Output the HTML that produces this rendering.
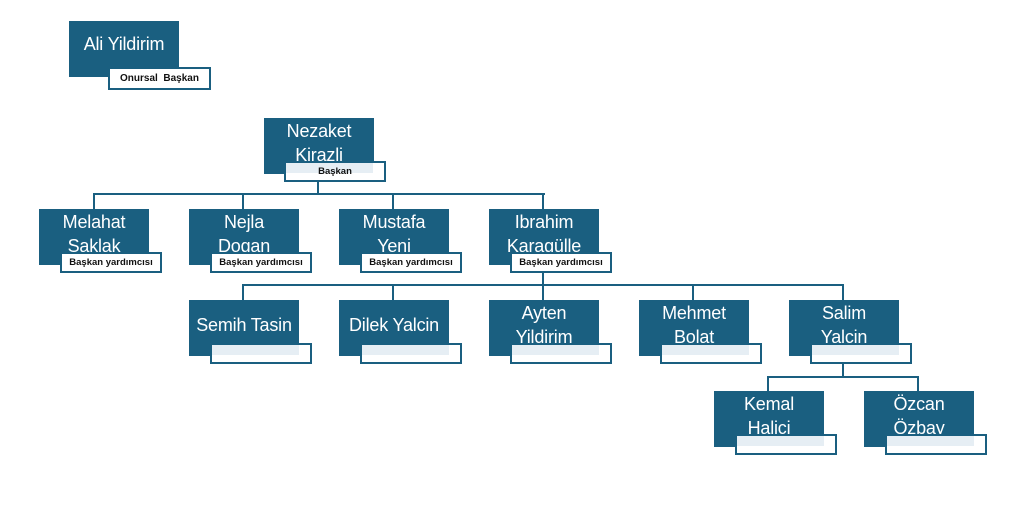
<!DOCTYPE html>
<html><head><meta charset="utf-8"><style>
body{margin:0;width:1024px;height:513px;background:#fff;position:relative;overflow:hidden;font-family:"Liberation Sans",sans-serif}
.b{position:absolute;width:110px;height:56px;background:#1a5f80;color:#fff;font-size:18px;line-height:24px;text-align:center;box-sizing:border-box;padding-top:1px;white-space:nowrap;letter-spacing:-0.2px}
.l{position:absolute;width:102px;height:21px;background:#fff;border:2px solid #1a5f80;box-sizing:border-box;font-size:9.5px;font-weight:bold;color:#111;text-align:center;line-height:17px}
.t{position:absolute;left:0;top:0;height:10px;background:#e6eef4;width:87px}
.h{position:absolute;height:2px;background:#1a5f80}
.v{position:absolute;width:2px;background:#1a5f80}
</style></head><body>
<div class="b" style="left:69px;top:21px;padding-top:11px">Ali Yildirim</div>
<div class="l" style="left:108px;top:67px;width:103px;height:23px;line-height:19px;font-size:10px">Onursal&nbsp; Başkan</div>

<div class="v" style="left:317px;top:180px;height:15px"></div>
<div class="h" style="left:93px;top:193px;width:452px"></div>
<div class="v" style="left:93px;top:193px;height:16px"></div>
<div class="v" style="left:242px;top:193px;height:16px"></div>
<div class="v" style="left:392px;top:193px;height:16px"></div>
<div class="v" style="left:542px;top:193px;height:16px"></div>

<div class="v" style="left:542px;top:272px;height:14px"></div>
<div class="h" style="left:242px;top:284px;width:602px"></div>
<div class="v" style="left:242px;top:284px;height:16px"></div>
<div class="v" style="left:392px;top:284px;height:16px"></div>
<div class="v" style="left:542px;top:284px;height:16px"></div>
<div class="v" style="left:692px;top:284px;height:16px"></div>
<div class="v" style="left:842px;top:284px;height:16px"></div>

<div class="v" style="left:842px;top:362px;height:16px"></div>
<div class="h" style="left:767px;top:376px;width:152px"></div>
<div class="v" style="left:767px;top:376px;height:15px"></div>
<div class="v" style="left:917px;top:376px;height:15px"></div>

<div class="b" style="left:264px;top:118px">Nezaket<br>Kirazli</div>
<div class="l" style="left:284px;top:161px"><div class="t" style="width:87px"></div><span style="position:relative">Başkan</span></div>

<div class="b" style="left:39px;top:209px">Melahat<br>Saklak</div>
<div class="l" style="left:60px;top:252px"><span style="position:relative">Başkan yardımcısı</span></div>
<div class="b" style="left:189px;top:209px">Nejla<br>Dogan</div>
<div class="l" style="left:210px;top:252px"><span style="position:relative">Başkan yardımcısı</span></div>
<div class="b" style="left:339px;top:209px">Mustafa<br>Yeni</div>
<div class="l" style="left:360px;top:252px"><span style="position:relative">Başkan yardımcısı</span></div>
<div class="b" style="left:489px;top:209px">Ibrahim<br>Karagülle</div>
<div class="l" style="left:510px;top:252px"><span style="position:relative">Başkan yardımcısı</span></div>

<div class="b" style="left:189px;top:300px;padding-top:13px">Semih Tasin</div>
<div class="l" style="left:210px;top:343px"><div class="t"></div></div>
<div class="b" style="left:339px;top:300px;padding-top:13px">Dilek Yalcin</div>
<div class="l" style="left:360px;top:343px"><div class="t"></div></div>
<div class="b" style="left:489px;top:300px">Ayten<br>Yildirim</div>
<div class="l" style="left:510px;top:343px"><div class="t"></div></div>
<div class="b" style="left:639px;top:300px">Mehmet<br>Bolat</div>
<div class="l" style="left:660px;top:343px"><div class="t"></div></div>
<div class="b" style="left:789px;top:300px">Salim<br>Yalcin</div>
<div class="l" style="left:810px;top:343px"><div class="t"></div></div>

<div class="b" style="left:714px;top:391px">Kemal<br>Halici</div>
<div class="l" style="left:735px;top:434px"><div class="t"></div></div>
<div class="b" style="left:864px;top:391px">Özcan<br>Özbay</div>
<div class="l" style="left:885px;top:434px"><div class="t"></div></div>
</body></html>
